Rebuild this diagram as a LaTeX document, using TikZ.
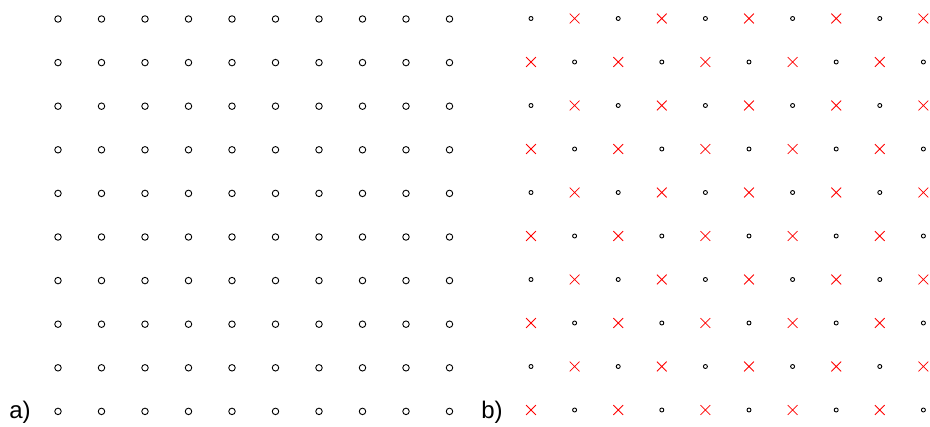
\documentclass[tikz,border=0pt]{standalone}
\usepackage{fontspec}
\setmainfont{Liberation Sans}
\usetikzlibrary{shapes.misc}
\begin{document}
\begin{tikzpicture}[x=1pt,y=-1pt,
  bigdot/.style={circle,draw=black,line width=0.9pt,inner sep=0pt,minimum size=6.5pt},
  smalldot/.style={circle,draw=black,line width=0.9pt,inner sep=0pt,minimum size=4pt},
  cross/.style={cross out,draw=red,line width=0.8pt,inner sep=0pt,minimum size=9pt},
  lbl/.style={font=\fontsize{24}{28}\selectfont,inner sep=0pt,anchor=base}]
\useasboundingbox (0,0) rectangle (930,427);
\foreach \i in {0,...,9}{
  \foreach \j in {0,...,9}{
    \node[bigdot] (a-\i-\j) at ({58+43.5*\i},{19+43.6*\j}) {};
    \pgfmathtruncatemacro{\myparity}{mod(\i+\j,2)}
    \ifnum\myparity=0
      \node[smalldot] (b-\i-\j) at ({531+43.6*\i},{18.5+43.5*\j}) {};
    \else
      \node[cross] (b-\i-\j) at ({531+43.6*\i},{18.5+43.5*\j}) {};
    \fi
  }
}
\node[lbl] (la) at (20,419) {a)};
\node[lbl] (lb) at (492,419) {b)};
\end{tikzpicture}
\end{document}
